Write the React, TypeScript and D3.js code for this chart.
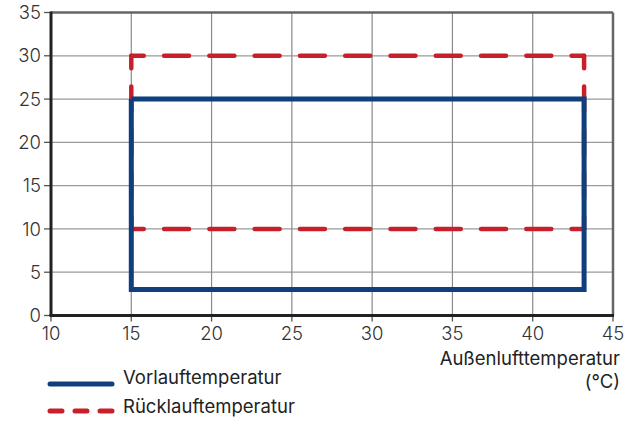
import React from "react";
import * as d3 from "d3";

const xTicks = [10, 15, 20, 25, 30, 35, 40, 45];
const yTicks = [0, 5, 10, 15, 20, 25, 30, 35];
const vorlaufX = [15, 43.2, 43.2, 15, 15];
const vorlaufY = [25, 25, 3, 3, 25];
const ruecklaufX = [15, 43.2, 43.2, 15, 15];
const ruecklaufY = [30, 30, 10, 10, 30];
const seriesNames = ["Vorlauftemperatur", "Rücklauftemperatur"];
const xTitle = ["Außenlufttemperatur", "(°C)"];

const W = 625, H = 421;
const FONT = "Inter, sans-serif";
const BLUE = "#0f3f7d";
const RED = "#c8202b";

export default function App() {
  const x = d3.scaleLinear().domain([10, 45]).range([51, 613]);
  const y = d3.scaleLinear().domain([0, 35]).range([315.5, 12.5]);

  const bluePts = vorlaufX.map((v, i) => [x(v), y(vorlaufY[i])] as [number, number]);
  const redPts = ruecklaufX.map((v, i) => [x(v), y(ruecklaufY[i])] as [number, number]);
  const line = d3.line();

  const dash = 25, period = 47;
  const redSegs = redPts.slice(0, -1).map((p, i) => {
    const q = redPts[i + 1];
    const L = Math.hypot(q[0] - p[0], q[1] - p[1]);
    const n = Math.max(1, Math.round(L / period));
    const per = L / n;
    return { p, q, da: `${dash} ${per - dash}`, off: dash / 2 };
  });

  return (
    <svg width={W} height={H} style={{ position: "absolute", left: 0, top: 0 }}>
      <rect width={W} height={H} fill="#fff" />
      {yTicks.slice(1, -1).map((t) => (
        <line key={"gy" + t} x1={x(10)} x2={x(45)} y1={y(t)} y2={y(t)} stroke="#9a9a9a" strokeWidth={1.3} />
      ))}
      {xTicks.slice(1, -1).map((t) => (
        <line key={"gx" + t} x1={x(t)} x2={x(t)} y1={y(0)} y2={y(35)} stroke="#8a8a8a" strokeWidth={1.2} />
      ))}
      <line x1={x(10)} x2={x(45)} y1={y(35)} y2={y(35)} stroke="#666" strokeWidth={2.5} />
      <line x1={x(45)} x2={x(45)} y1={y(35)} y2={y(0)} stroke="#666" strokeWidth={2.5} />
      {yTicks.map((t) => (
        <line key={"ty" + t} x1={x(10) - 7} x2={x(10)} y1={y(t)} y2={y(t)} stroke="#555" strokeWidth={1.3} />
      ))}
      {xTicks.map((t) => (
        <line key={"tx" + t} x1={x(t)} x2={x(t)} y1={y(0)} y2={y(0) + 6} stroke="#555" strokeWidth={1.3} />
      ))}
      <line x1={x(10)} x2={x(10)} y1={y(35) - 1} y2={y(0)} stroke="#222" strokeWidth={3} />
      <line x1={x(10) - 1.5} x2={x(45) + 1} y1={y(0)} y2={y(0)} stroke="#222" strokeWidth={3} />
      {redSegs.map((s, i) => (
        <line key={"r" + i} x1={s.p[0]} y1={s.p[1]} x2={s.q[0]} y2={s.q[1]} stroke={RED} strokeWidth={4.5}
          strokeLinecap="round" strokeDasharray={s.da} strokeDashoffset={s.off} />
      ))}
      <path d={line(bluePts) || ""} fill="none" stroke={BLUE} strokeWidth={5} strokeLinejoin="miter" />
      {yTicks.map((t) => (
        <text key={"ly" + t} x={41} y={y(t)} dy="0.36em" textAnchor="end" fontFamily={FONT} fontSize={18.5} fontWeight={300} fill="#333">{t}</text>
      ))}
      {xTicks.map((t) => (
        <text key={"lx" + t} x={x(t)} y={340} textAnchor="middle" fontFamily={FONT} fontSize={18.5} fontWeight={300} fill="#333">{t}</text>
      ))}
      <text x={620} y={365} textAnchor="end" fontFamily={FONT} fontSize={18.5} fill="#222">{xTitle[0]}</text>
      <text x={620} y={388} textAnchor="end" fontFamily={FONT} fontSize={18.5} fill="#222">{xTitle[1]}</text>
      <line x1={50} x2={112} y1={384} y2={384} stroke={BLUE} strokeWidth={5} strokeLinecap="round" />
      <line x1={50} x2={112} y1={411} y2={411} stroke={RED} strokeWidth={5} strokeLinecap="round" strokeDasharray="12 13" />
      <text x={123} y={384} fontFamily={FONT} fontSize={18.5} fill="#222">{seriesNames[0]}</text>
      <text x={123} y={413} fontFamily={FONT} fontSize={18.5} fill="#222">{seriesNames[1]}</text>
    </svg>
  );
}
